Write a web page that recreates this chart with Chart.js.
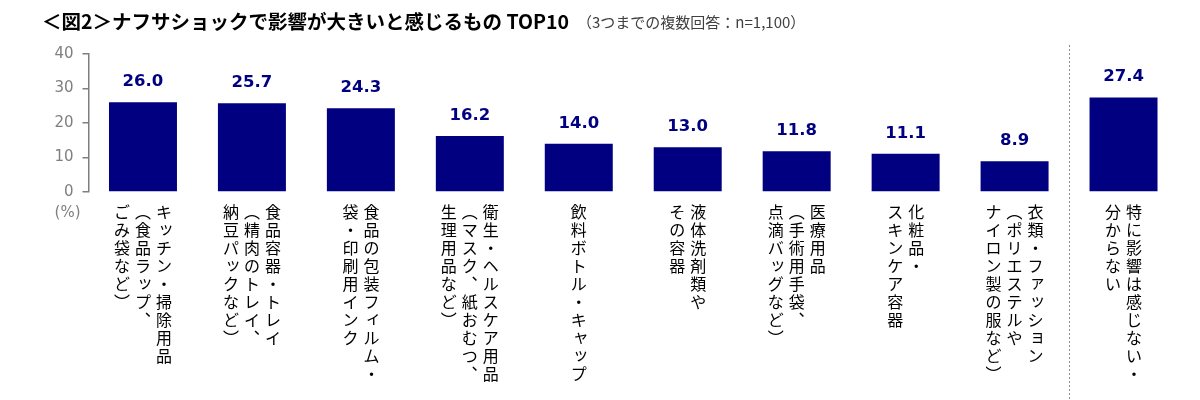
<!DOCTYPE html>
<html>
<head>
<meta charset="utf-8">
<script src="https://cdn.jsdelivr.net/npm/chart.js@4.4.0/dist/chart.umd.min.js"></script>
<style>
  html, body { margin: 0; padding: 0; background: #fff; }
  #wrap { width: 1200px; height: 400px; position: relative; }
</style>
</head>
<body>
<div id="wrap"><canvas id="top10-chart"></canvas></div>
<script>
var titleText = '＜図2＞ナフサショックで影響が大きいと感じるもの TOP10';
var noteText = '（3つまでの複数回答：n=1,100）';
var unitLabel = '(%)';

// each label is a list of vertical columns, first column is the rightmost
var categories = [
    ['キッチン・掃除用品', '（食品ラップ、', 'ごみ袋など）'],
    ['食品容器・トレイ', '（精肉のトレイ、', '納豆パックなど）'],
    ['食品の包装フィルム・', '袋・印刷用インク'],
    ['衛生・ヘルスケア用品', '（マスク、紙おむつ、', '生理用品など）'],
    ['飲料ボトル・キャップ'],
    ['液体洗剤類や', 'その容器'],
    ['医療用品', '（手術用手袋、', '点滴バッグなど）'],
    ['化粧品・', 'スキンケア容器'],
    ['衣類・ファッション', '（ポリエステルや', 'ナイロン製の服など）'],
    ['特に影響は感じない・', '分からない']
];
var values = [26.0, 25.7, 24.3, 16.2, 14.0, 13.0, 11.8, 11.1, 8.9, 27.4];
var yTicks = [0, 10, 20, 30, 40];

var NAVY = '#000080';
var GREY = '#7f7f7f';
var JP = '"Noto Sans CJK JP", "Noto Sans", sans-serif';
var TITLE_SIZE = 19.5;

var vertForms = { '（': '︵', '）': '︶', '、': '︑' };
var smallKana = 'ッャュョィァェォゥ';

// value labels above each bar
var valueLabels = {
    id: 'valueLabels',
    afterDatasetsDraw: function(chart) {
        var ctx = chart.ctx;
        var meta = chart.getDatasetMeta(0);
        ctx.save();
        ctx.font = 'bold 16.5px "DejaVu Sans", Verdana, sans-serif';
        ctx.fillStyle = NAVY;
        ctx.textAlign = 'center';
        ctx.textBaseline = 'alphabetic';
        meta.data.forEach(function(bar, i) {
            ctx.fillText(values[i].toFixed(1), bar.x, bar.y - 16);
        });
        ctx.restore();
    }
};

// header note, (%) unit, separator line and vertical category labels
var extras = {
    id: 'extras',
    afterDraw: function(chart) {
        var ctx = chart.ctx;
        var xs = chart.scales.x;
        var area = chart.chartArea;
        ctx.save();

        // note after the bold title
        var tb = chart.titleBlock;
        ctx.font = 'bold ' + TITLE_SIZE + 'px ' + JP;
        var tw = ctx.measureText(titleText).width;
        ctx.font = '15px ' + JP;
        ctx.fillStyle = '#404040';
        ctx.textAlign = 'left';
        ctx.textBaseline = 'middle';
        ctx.fillText(noteText, tb.left + tw + 8, tb.top + 10 + TITLE_SIZE * 0.6 + 1);

        // unit under the y axis
        ctx.font = '15px "DejaVu Sans", sans-serif';
        ctx.fillStyle = GREY;
        ctx.textAlign = 'right';
        ctx.fillText(unitLabel, area.left - 8, area.bottom + 21);

        // dotted separator before the last category
        var sx = Math.round((xs.getPixelForTick(8) + xs.getPixelForTick(9)) / 2) + 0.5;
        ctx.strokeStyle = '#8c8c8c';
        ctx.lineWidth = 1;
        ctx.setLineDash([2, 2]);
        ctx.beginPath();
        ctx.moveTo(sx, 45);
        ctx.lineTo(sx, chart.height);
        ctx.stroke();
        ctx.setLineDash([]);

        // vertical (tategaki) category labels
        ctx.font = '16px ' + JP;
        ctx.fillStyle = '#000';
        ctx.textAlign = 'center';
        categories.forEach(function(cols, i) {
            var cx = xs.getPixelForTick(i);
            var n = cols.length;
            cols.forEach(function(col, c) {
                var x = cx + ((n - 1) / 2 - c) * 21;
                Array.from(col).forEach(function(ch, k) {
                    var y = area.bottom + 20 + k * 18;
                    var g = vertForms[ch] || ch;
                    var dx = 0, dy = 0;
                    if (smallKana.indexOf(ch) >= 0) { dx = 2; dy = -2; }
                    ctx.fillText(g, x + dx, y + dy);
                });
            });
        });
        ctx.restore();
    }
};

var ctx = document.getElementById('top10-chart').getContext('2d');
var chart = new Chart(ctx, {
    type: 'bar',
    data: {
        labels: categories.map(function(c) { return c.join(''); }),
        datasets: [{
            data: values,
            backgroundColor: NAVY,
            borderWidth: 0,
            barPercentage: 0.624,
            categoryPercentage: 1.0
        }]
    },
    options: {
        responsive: true,
        maintainAspectRatio: false,
        animation: false,
        layout: { padding: { left: 42, right: 22, top: 0, bottom: 0 } },
        plugins: {
            legend: { display: false },
            tooltip: { enabled: false },
            title: {
                display: true,
                text: titleText,
                align: 'start',
                color: '#000',
                font: { family: JP, size: TITLE_SIZE, weight: 'bold' },
                padding: { top: 10, bottom: 54 - 10 - TITLE_SIZE * 1.2 }
            }
        },
        scales: {
            x: {
                grid: { display: false },
                border: { display: false },
                ticks: { display: false },
                afterFit: function(scale) { scale.height = 208; }
            },
            y: {
                min: yTicks[0],
                max: yTicks[yTicks.length - 1],
                afterBuildTicks: function(scale) {
                    scale.ticks = yTicks.map(function(v) { return { value: v }; });
                },
                ticks: {
                    color: GREY,
                    padding: 9,
                    font: { family: '"DejaVu Sans", sans-serif', size: 15 }
                },
                grid: {
                    drawOnChartArea: false,
                    drawTicks: true,
                    tickLength: 6,
                    color: GREY,
                    lineWidth: 1.5
                },
                border: { display: true, color: GREY, width: 1.5 },
                afterFit: function(scale) { scale.width = 46.5; }
            }
        }
    },
    plugins: [valueLabels, extras]
});
</script>
</body>
</html>
